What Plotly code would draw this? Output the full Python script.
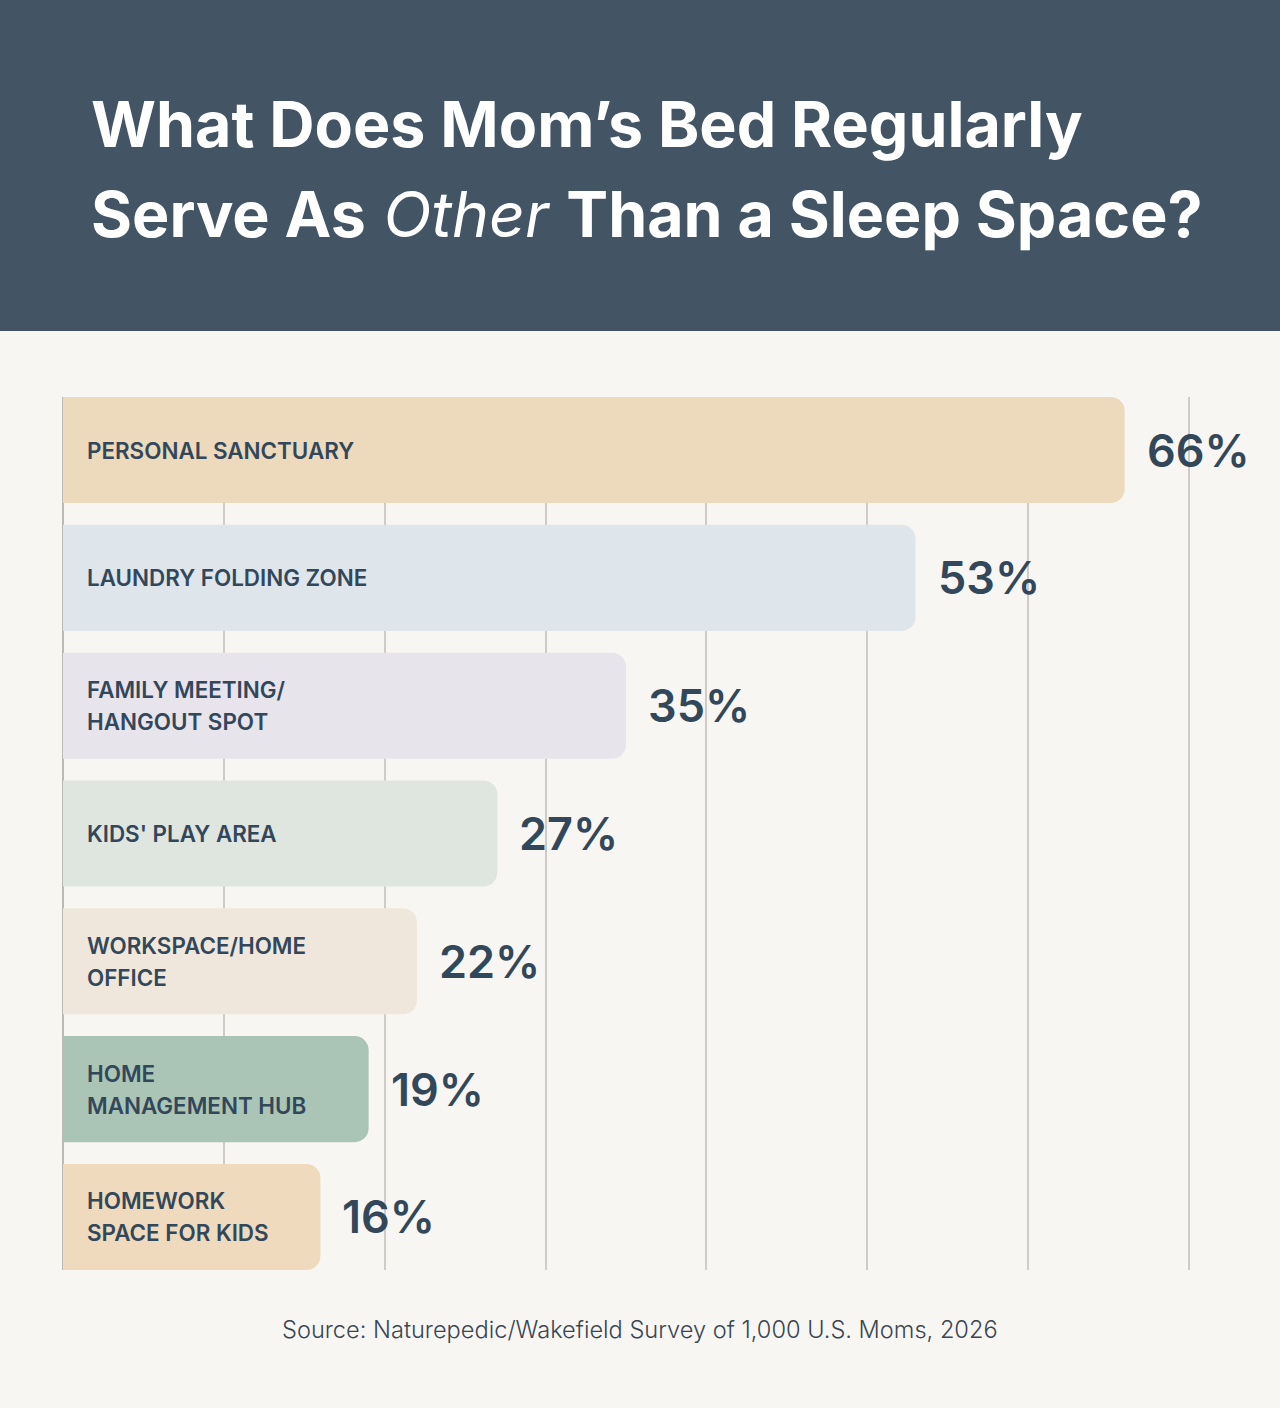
import plotly.graph_objects as go

categories = [
    "PERSONAL SANCTUARY",
    "LAUNDRY FOLDING ZONE",
    "FAMILY MEETING/<br>HANGOUT SPOT",
    "KIDS' PLAY AREA",
    "WORKSPACE/HOME<br>OFFICE",
    "HOME<br>MANAGEMENT HUB",
    "HOMEWORK<br>SPACE FOR KIDS",
]
values = [66, 53, 35, 27, 22, 19, 16]
value_labels = ["66%", "53%", "35%", "27%", "22%", "19%", "16%"]
bar_colors = ["#EDD9BC", "#DEE5EB", "#E7E4EB", "#DFE6DF", "#F0E7DC", "#AAC4B6", "#EFDABD"]
x_ticks = [0, 10, 20, 30, 40, 50, 60, 70]
title_lines = [
    "<b>What Does Mom’s Bed Regularly</b>",
    "<b>Serve As</b> <i>Other</i> <b>Than a Sleep Space?</b>",
]
source_text = "Source: Naturepedic/Wakefield Survey of 1,000 U.S. Moms, 2026"

W, H = 1280, 1408
ML, MR, MT, MB = 63, 85, 397, 138
PH = H - MT - MB
PW = W - ML - MR
X_MAX = 70 * PW / 1126

TEXT = "#33475A"
BG = "#F8F6F2"
HEADER = "#435565"
FONT = "Inter"

ypos = list(range(len(categories)))

fig = go.Figure()
fig.add_trace(go.Bar(
    x=values,
    y=ypos,
    orientation="h",
    marker=dict(color=bar_colors, line=dict(width=0)),
    width=0.83,
    hoverinfo="skip",
))

annotations = []
for i, (c, v, lab) in enumerate(zip(categories, values, value_labels)):
    parts = c.split("<br>")
    n = len(parts)
    for k, part in enumerate(parts):
        annotations.append(dict(
            x=0, y=i, xref="x", yref="y", text=part, showarrow=False,
            xanchor="left", yanchor="middle", xshift=22,
            yshift=(n - 1) * 16 - 32 * k, align="left",
            font=dict(family=FONT, size=22.4, color=TEXT, weight=600),
        ))
    annotations.append(dict(
        x=v, y=i, xref="x", yref="y", text=lab, showarrow=False,
        xanchor="left", yanchor="middle", xshift=20,
        font=dict(family=FONT, size=45, color=TEXT, weight=600),
    ))

annotations.append(dict(
    x=(640 - ML) / PW, xref="paper", y=-(1329 - (H - MB)) / PH, yref="paper",
    text=source_text,
    showarrow=False, xanchor="center", yanchor="middle",
    font=dict(family=FONT, size=23.6, color="#3A4652", weight=300),
))

for line, yc in zip(title_lines, [124, 214]):
    annotations.append(dict(
        x=(89 - ML) / PW, xref="paper", y=1 + (MT - yc) / PH, yref="paper",
        text=line, showarrow=False, xanchor="left", yanchor="middle", align="left",
        font=dict(family=FONT, size=62.7, color="#FFFFFF", weight=400),
    ))

shapes = [dict(
    type="rect", xref="paper", yref="paper",
    x0=-ML / PW, x1=1 + MR / PW,
    y0=1 + (MT - 331) / PH, y1=1 + MT / PH,
    fillcolor=HEADER, line=dict(width=0), layer="below",
)]

fig.update_layout(
    width=W, height=H,
    margin=dict(l=ML, r=MR, t=MT, b=MB, pad=0),
    paper_bgcolor=BG, plot_bgcolor=BG,
    showlegend=False,
    barcornerradius=14,
    annotations=annotations,
    shapes=shapes,
    xaxis=dict(
        range=[0, X_MAX], tickvals=x_ticks, showticklabels=False,
        showgrid=True, gridcolor="#CFCCC8", gridwidth=1.5,
        zeroline=True, zerolinecolor="#BDBAB6", zerolinewidth=1.5,
        showline=False, fixedrange=True,
    ),
    yaxis=dict(
        range=[len(categories) - 1 + 0.415, -0.415],
        showticklabels=False, showgrid=False, zeroline=False,
        fixedrange=True,
    ),
)

fig.write_html(
    "out.html",
    config={"displayModeBar": False},
    post_script="document.body.style.margin='0';document.body.style.overflow='hidden';",
)
